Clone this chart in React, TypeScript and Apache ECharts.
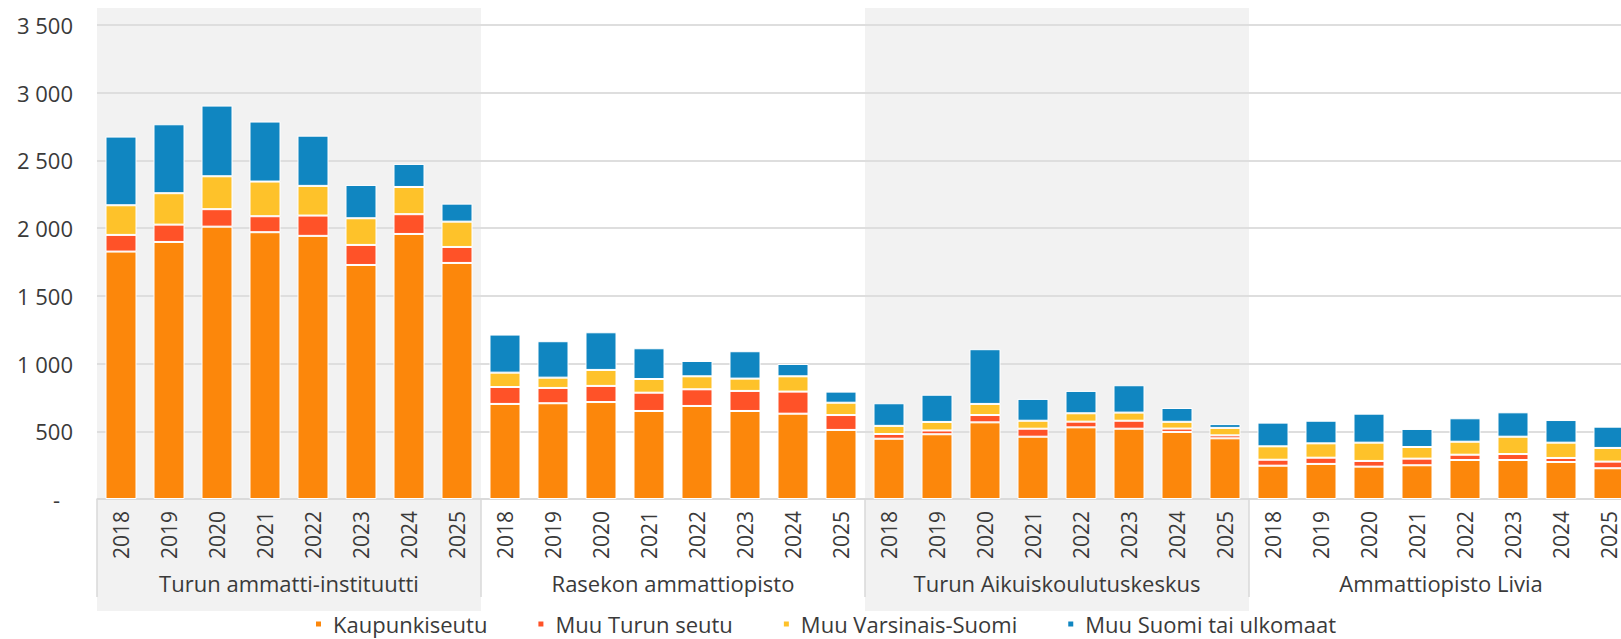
import React, { useEffect, useRef } from "react";
import * as echarts from "echarts";

const years = ["2018", "2019", "2020", "2021", "2022", "2023", "2024", "2025"];
const groups = [
  "Turun ammatti-instituutti",
  "Rasekon ammattiopisto",
  "Turun Aikuiskoulutuskeskus",
  "Ammattiopisto Livia",
];
const seriesNames = [
  "Kaupunkiseutu",
  "Muu Turun seutu",
  "Muu Varsinais-Suomi",
  "Muu Suomi tai ulkomaat",
];
const kaupunkiseutu = [
  1827, 1898, 2011, 1970, 1943, 1728, 1957, 1743,
  702, 707, 716, 650, 687, 650, 630, 510,
  445, 478, 566, 460, 529, 519, 495, 448,
  246, 259, 239, 249, 288, 288, 273, 227,
];
const muuTurunSeutu = [
  123, 128, 129, 118, 150, 148, 146, 118,
  125, 113, 119, 135, 123, 148, 163, 110,
  35, 28, 54, 59, 42, 59, 25, 22,
  44, 46, 42, 49, 39, 44, 30, 49,
];
const muuVarsinaisSuomi = [
  219, 232, 243, 256, 219, 197, 201, 187,
  106, 76, 118, 101, 96, 91, 113, 91,
  60, 63, 82, 59, 62, 60, 50, 55,
  99, 106, 135, 86, 96, 128, 113, 101,
];
const muuSuomi = [
  507, 509, 522, 443, 371, 246, 170, 133,
  281, 269, 278, 227, 113, 202, 91, 82,
  167, 201, 404, 161, 165, 202, 102, 28,
  175, 167, 214, 133, 173, 180, 167, 157,
];
const colors = ["#FC870B", "#FF5228", "#FEC22A", "#1086C1"];
const shadedGroups = [0, 2];

const FONT = "Open Sans";
const TEXT = "#3a3a3a";

export default function App() {
  const ref = useRef<HTMLDivElement>(null);
  useEffect(() => {
    if (!ref.current) return;
    const chart = echarts.init(ref.current, null, { renderer: "svg" });
    const categories = groups.flatMap((_, gi) => years.map((y) => `${gi}|${y}`));
    const values = [kaupunkiseutu, muuTurunSeutu, muuVarsinaisSuomi, muuSuomi];
    chart.setOption({
      animation: false,
      textStyle: { fontFamily: FONT },
      grid: {
        left: 97,
        top: 25,
        width: 1536,
        height: 474,
        containLabel: false,
        outerBoundsMode: "none",
      },
      legend: {
        data: seriesNames,
        left: 314,
        top: 613,
        padding: 0,
        icon: "rect",
        itemWidth: 7,
        itemHeight: 7,
        itemGap: 49,
        textStyle: {
          fontSize: 22,
          lineHeight: 22,
          color: TEXT,
          fontFamily: FONT,
          padding: [0, 0, 0, 6],
        },
      },
      xAxis: [
        {
          type: "category",
          data: categories,
          axisLine: { show: true, lineStyle: { color: "#d9d9d9", width: 1.5 } },
          axisTick: { show: false },
          axisLabel: {
            interval: 0,
            rotate: 90,
            margin: 12,
            fontSize: 21,
            color: TEXT,
            fontFamily: FONT,
            formatter: (v: string) => v.split("|")[1],
          },
        },
        {
          type: "category",
          data: groups,
          position: "bottom",
          axisLine: { show: false },
          axisTick: { show: true, length: 98, lineStyle: { color: "#d9d9d9", width: 1.5 } },
          axisLabel: {
            interval: 0,
            margin: 73,
            fontSize: 22,
            lineHeight: 22,
            color: TEXT,
            fontFamily: FONT,
          },
          splitLine: { show: false },
        },
      ],
      yAxis: {
        type: "value",
        min: 0,
        max: 3500,
        interval: 500,
        axisLine: { show: false },
        axisTick: { show: false },
        splitLine: { show: true, lineStyle: { color: "#dedede", width: 2 } },
        axisLabel: {
          margin: 24,
          fontSize: 22,
          color: TEXT,
          fontFamily: FONT,
          formatter: (v: number) =>
            v === 0 ? "{d|-}" : String(v).replace(/\B(?=(\d{3})+(?!\d))/g, " "),
          rich: { d: { padding: [0, 13, 0, 0], fontSize: 22, color: TEXT, fontFamily: FONT } },
        },
      },
      series: seriesNames.map((name, i) => ({
        name,
        type: "bar",
        stack: "total",
        xAxisIndex: 0,
        barWidth: 31,
        data: values[i],
        itemStyle: { color: colors[i], borderColor: "#ffffff", borderWidth: 1 },
        emphasis: { disabled: true },
      })),
    });

    const p0 = chart.convertToPixel({ xAxisIndex: 0 }, 0) as number;
    const p1 = chart.convertToPixel({ xAxisIndex: 0 }, 1) as number;
    const bw = p1 - p0;
    const rects = shadedGroups.map((g) => {
      const start = (chart.convertToPixel({ xAxisIndex: 0 }, g * years.length) as number) - bw / 2;
      const end =
        (chart.convertToPixel({ xAxisIndex: 0 }, g * years.length + years.length - 1) as number) + bw / 2;
      return {
        type: "rect",
        z: -10,
        silent: true,
        shape: { x: start, y: 8, width: end - start, height: 603 },
        style: { fill: "#f2f2f2" },
      };
    });
    chart.setOption({ graphic: rects });

    return () => chart.dispose();
  }, []);
  return (
    <div
      ref={ref}
      style={{ position: "absolute", left: 0, top: 0, width: 1621, height: 639 }}
    />
  );
}
